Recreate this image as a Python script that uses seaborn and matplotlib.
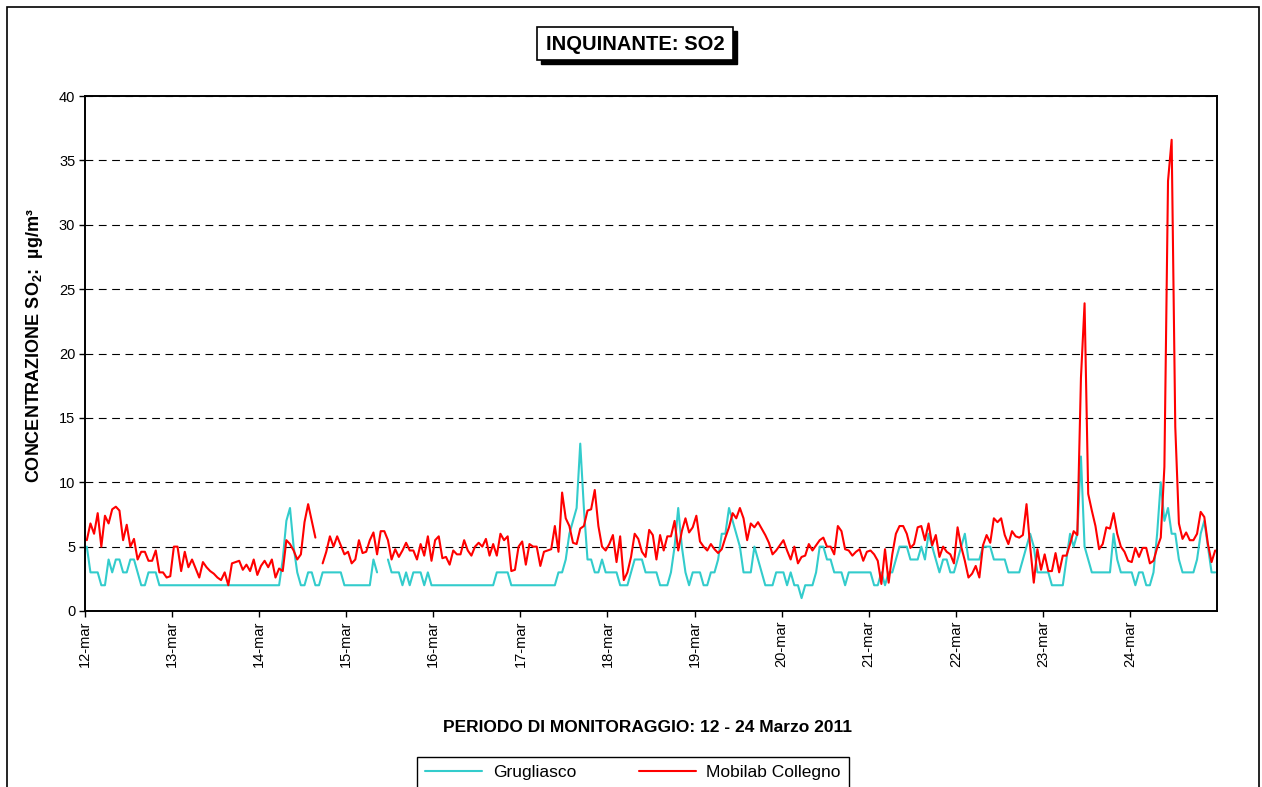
import numpy as np
import pandas as pd
import matplotlib.pyplot as plt
from matplotlib.patches import Rectangle
import seaborn as sns

nan = np.nan

# etichette dei giorni (una ogni 24 ore)
giorni = ['12-mar', '13-mar', '14-mar', '15-mar', '16-mar', '17-mar', '18-mar',
          '19-mar', '20-mar', '21-mar', '22-mar', '23-mar', '24-mar']

# medie orarie SO2 (ug/m3), 12-24 marzo 2011
grugliasco = [
    5, 3, 3, 3, 2, 2, 4, 3, 4, 4, 3, 3, 4, 4, 3, 2, 2, 3, 3, 3, 2, 2, 2, 2,
    2, 2, 2, 2, 2, 2, 2, 2, 2, 2, 2, 2, 2, 2, 2, 2, 2, 2, 2, 2, 2, 2, 2, 2,
    2, 2, 2, 2, 2, 2, 4, 7, 8, 5, 3, 2, 2, 3, 3, 2, 2, 3, 3, 3, 3, 3, 3, 2,
    2, 2, 2, 2, 2, 2, 2, 4, 3, nan, nan, 4, 3, 3, 3, 2, 3, 2, 3, 3, 3, 2, 3, 2,
    2, 2, 2, 2, 2, 2, 2, 2, 2, 2, 2, 2, 2, 2, 2, 2, 2, 3, 3, 3, 3, 2, 2, 2,
    2, 2, 2, 2, 2, 2, 2, 2, 2, 2, 3, 3, 4, 6, 7, 8, 13, 8, 4, 4, 3, 3, 4, 3,
    3, 3, 3, 2, 2, 2, 3, 4, 4, 4, 3, 3, 3, 3, 2, 2, 2, 3, 5, 8, 5, 3, 2, 3,
    3, 3, 2, 2, 3, 3, 4, 6, 6, 8, 7, 6, 5, 3, 3, 3, 5, 4, 3, 2, 2, 2, 3, 3,
    3, 2, 3, 2, 2, 1, 2, 2, 2, 3, 5, 5, 4, 4, 3, 3, 3, 2, 3, 3, 3, 3, 3, 3,
    3, 2, 2, 3, 2, 3, 3, 4, 5, 5, 5, 4, 4, 4, 5, 4, 6, 5, 4, 3, 4, 4, 3, 3,
    4, 5, 6, 4, 4, 4, 4, 5, 5, 5, 4, 4, 4, 4, 3, 3, 3, 3, 4, 5, 6, 5, 3, 3,
    3, 3, 2, 2, 2, 2, 4, 6, 5, 6, 12, 5, 4, 3, 3, 3, 3, 3, 3, 6, 4, 3, 3, 3,
    3, 2, 3, 3, 2, 2, 3, 6, 10, 7, 8, 6, 6, 4, 3, 3, 3, 3, 4, 6, 7, 5, 3, 3,
]

mobilab = [
    5.5, 6.8, 6.0, 7.6, 5.0, 7.4, 6.8, 7.9, 8.1, 7.8, 5.5, 6.7, 5.0, 5.6, 4.0, 4.6, 4.6, 3.9, 3.9, 4.7, 3.0, 3.0, 2.6, 2.7,
    5.0, 5.0, 3.1, 4.6, 3.4, 4.0, 3.3, 2.6, 3.8, 3.4, 3.1, 2.9, 2.6, 2.4, 3.0, 2.0, 3.7, 3.8, 3.9, 3.2, 3.6, 3.1, 4.0, 2.8,
    3.5, 3.9, 3.4, 4.0, 2.6, 3.3, 3.1, 5.5, 5.2, 4.7, 4.0, 4.4, 6.9, 8.3, 7.0, 5.7, nan, 3.7, 4.6, 5.8, 5.0, 5.8, 5.1, 4.4,
    4.6, 3.7, 4.0, 5.5, 4.5, 4.6, 5.5, 6.1, 4.4, 6.2, 6.2, 5.5, 4.0, 4.8, 4.2, 4.7, 5.3, 4.7, 4.7, 4.0, 5.2, 4.3, 5.8, 3.9,
    5.5, 5.8, 4.1, 4.2, 3.6, 4.7, 4.4, 4.4, 5.5, 4.7, 4.3, 5.0, 5.3, 5.0, 5.6, 4.3, 5.2, 4.3, 6.0, 5.5, 5.8, 3.1, 3.2, 5.0,
    5.4, 3.6, 5.2, 5.0, 5.0, 3.5, 4.6, 4.7, 4.8, 6.6, 4.6, 9.2, 7.2, 6.6, 5.3, 5.2, 6.4, 6.6, 7.8, 7.9, 9.4, 6.6, 5.0, 4.7,
    5.2, 5.9, 3.8, 5.8, 2.4, 3.0, 4.2, 6.0, 5.6, 4.6, 4.2, 6.3, 5.9, 4.0, 5.9, 4.7, 5.8, 5.8, 7.0, 4.7, 6.2, 7.2, 6.1, 6.5,
    7.4, 5.4, 5.0, 4.7, 5.2, 4.8, 4.5, 4.8, 5.7, 6.5, 7.6, 7.2, 8.0, 7.2, 5.5, 6.8, 6.5, 6.9, 6.4, 5.9, 5.3, 4.4, 4.7, 5.1,
    5.5, 4.7, 4.0, 5.0, 3.7, 4.2, 4.3, 5.2, 4.7, 5.1, 5.5, 5.7, 5.0, 5.0, 4.4, 6.6, 6.2, 4.8, 4.7, 4.3, 4.6, 4.8, 3.9, 4.6,
    4.7, 4.4, 3.9, 2.1, 4.8, 2.2, 4.4, 6.0, 6.6, 6.6, 6.0, 4.9, 5.2, 6.5, 6.6, 5.5, 6.8, 5.1, 5.9, 4.2, 5.0, 4.6, 4.4, 3.7,
    6.5, 5.0, 3.9, 2.6, 2.9, 3.5, 2.6, 5.1, 5.9, 5.3, 7.2, 6.9, 7.2, 5.9, 5.2, 6.2, 5.8, 5.7, 5.9, 8.3, 5.0, 2.2, 4.8, 3.2,
    4.4, 3.1, 3.1, 4.5, 3.0, 4.3, 4.3, 5.2, 6.2, 5.9, 18.1, 23.9, 9.1, 7.8, 6.6, 4.8, 5.2, 6.5, 6.4, 7.6, 6.0, 5.0, 4.6, 3.9,
    3.8, 4.9, 4.2, 4.9, 4.9, 3.7, 3.9, 4.9, 5.7, 11.2, 33.4, 36.6, 14.3, 6.8, 5.6, 6.1, 5.5, 5.5, 6.0, 7.7, 7.3, 5.2, 3.8, 4.7,
]

colori = {'Grugliasco': '#33CCCC', 'Mobilab Collegno': '#FF0000'}

sns.set_style('ticks')
plt.rcParams['font.family'] = ['Liberation Sans', 'DejaVu Sans']
plt.rcParams['text.color'] = 'black'
plt.rcParams['mathtext.fontset'] = 'custom'
plt.rcParams['mathtext.rm'] = 'Liberation Sans'
plt.rcParams['mathtext.bf'] = 'Liberation Sans:bold'

W, H = 1262, 787

def fx(x):
    return x / W

def fy(y):
    return 1 - y / H

ore = np.arange(len(mobilab))
df = pd.DataFrame({'giorno': (ore + 0.5) / 24,
                   'Grugliasco': grugliasco,
                   'Mobilab Collegno': mobilab})
lungo = df.melt(id_vars='giorno', var_name='stazione', value_name='conc')
# un tratto nuovo dopo ogni dato mancante, cosi' restano i buchi
lungo['tratto'] = lungo.groupby('stazione')['conc'].transform(lambda s: s.isna().cumsum())
lungo = lungo.dropna()

fig, ax = plt.subplots(figsize=(W / 100, H / 100), dpi=100)
fig.subplots_adjust(left=fx(85), right=fx(1217), top=fy(96), bottom=fy(611))

sns.lineplot(data=lungo, x='giorno', y='conc', hue='stazione', units='tratto',
             estimator=None, palette=colori, linewidth=1.5, ax=ax)

ax.set_xlim(0, 13)
ax.set_ylim(0, 40)
ax.set_yticks(range(0, 41, 5))
ax.set_xticks(range(len(giorni)))
ax.set_xticklabels(giorni, rotation=90)
ax.tick_params(direction='out', length=4, width=1, labelsize=10.5, colors='black', pad=3)
ax.yaxis.grid(True, color='black', linestyle=(0, (7, 5)), linewidth=0.8)
ax.set_axisbelow(True)
for s in ax.spines.values():
    s.set_visible(True)
    s.set_color('black')
    s.set_linewidth(1.4)
ax.set_xlabel('')
ax.set_ylabel('')

# legenda in basso, fuori dal grafico
leg = ax.get_legend()
handles = leg.legend_handles
labels = [t.get_text() for t in leg.get_texts()]
leg.remove()
for h in handles:
    h.set_linewidth(1.5)
fig.legend(handles, labels, loc='upper center', bbox_to_anchor=(fx(633), fy(757)),
           ncol=2, frameon=True, fancybox=False, edgecolor='black', framealpha=1,
           fontsize=12.5, handlelength=3.3, handletextpad=0.6, columnspacing=3.6,
           borderpad=0.45, borderaxespad=0.0)
fig.legends[0].get_frame().set_linewidth(1.0)

# titolo in riquadro con ombra
fig.patches.append(Rectangle((fx(541), fy(64)), fx(196), 33 / H, transform=fig.transFigure,
                             facecolor='black', edgecolor='black', zorder=1))
fig.patches.append(Rectangle((fx(537), fy(60)), fx(196), 33 / H, transform=fig.transFigure,
                             facecolor='white', edgecolor='black', linewidth=1.2, zorder=2))
fig.text(fx(635), fy(44), 'INQUINANTE: SO2', ha='center', va='center',
         fontsize=14.5, fontweight='bold', zorder=3)

fig.text(fx(35), fy(346), r'CONCENTRAZIONE SO$_\mathbf{2}$:  µg/m³', rotation=90,
         ha='center', va='center', fontsize=13, fontweight='bold')
fig.text(fx(648), fy(727), 'PERIODO DI MONITORAGGIO: 12 - 24 Marzo 2011',
         ha='center', va='center', fontsize=12.5, fontweight='bold')

# cornice esterna
fig.patches.append(Rectangle((fx(7), -0.05), fx(1252), 1.05 - 7 / H, transform=fig.transFigure,
                             fill=False, edgecolor='black', linewidth=1.2))

fig.savefig('out.png', dpi=100)
